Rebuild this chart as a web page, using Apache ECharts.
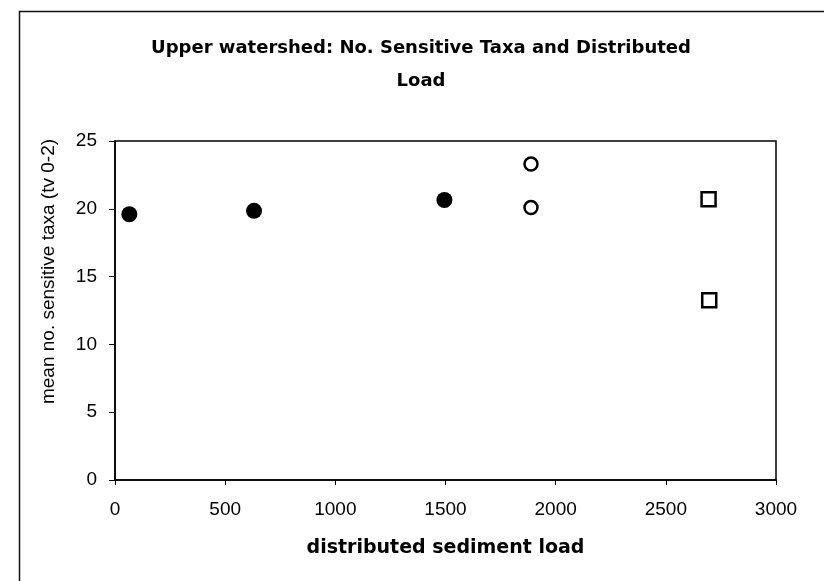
<!DOCTYPE html>
<html>
<head>
<meta charset="utf-8">
<script src="https://cdn.jsdelivr.net/npm/echarts@6/dist/echarts.min.js"></script>
<style>
  html, body { margin: 0; padding: 0; background: #fff; }
  #chart { width: 824px; height: 581px; }
</style>
</head>
<body>
<div id="chart"></div>
<script>
// values
const filledX = [65, 631, 1495];
const filledY = [19.6, 19.85, 20.65];
const openX = [1888, 1888];
const openY = [23.3, 20.1];
const squareX = [2694, 2697];
const squareY = [20.7, 13.25];

const toPoints = (xs, ys) => xs.map((x, i) => [x, ys[i]]);

const chart = echarts.init(document.getElementById("chart"));

const font = "'Liberation Sans', Arial, sans-serif";
const wideFont = "'DejaVu Sans', sans-serif";

const option = {
  backgroundColor: "#fff",
  animation: false,
  textStyle: { fontFamily: font, color: "#000" },
  title: {
    text: "Upper watershed: No. Sensitive Taxa and Distributed\nLoad",
    left: 416,
    top: 27,
    textAlign: "center",
    textStyle: {
      fontFamily: wideFont,
      fontSize: 18,
      fontWeight: "bold",
      color: "#000",
      lineHeight: 33,
    },
  },
  graphic: [
    {
      type: "rect",
      left: 17,
      top: 9,
      shape: { width: 900, height: 700 },
      style: { fill: "none", stroke: "#111", lineWidth: 1.5 },
      z: -1,
    },
  ],
  grid: {
    left: 115,
    top: 141,
    right: 48,
    bottom: 101,
    show: true,
    borderColor: "#000",
    borderWidth: 1.5,
    backgroundColor: "#fff",
  },
  xAxis: {
    type: "value",
    min: 0,
    max: 3000,
    interval: 500,
    name: "distributed sediment load",
    nameLocation: "middle",
    nameGap: 59,
    nameTextStyle: { fontFamily: wideFont, fontSize: 19, fontWeight: "bold", color: "#000" },
    axisLine: { show: true, lineStyle: { color: "#000", width: 1.5 } },
    axisTick: { show: true, inside: false, length: 5, lineStyle: { color: "#000" } },
    axisLabel: {
      fontFamily: font,
      fontSize: 19,
      color: "#000",
      margin: 20,
      formatter: (v) => String(v),
    },
    splitLine: { show: false },
  },
  yAxis: {
    type: "value",
    min: 0,
    max: 25,
    interval: 5,
    name: "mean no. sensitive taxa (tv 0-2)",
    nameLocation: "middle",
    nameGap: 57,
    nameTextStyle: {
      fontFamily: font,
      fontSize: 19,
      color: "#000",
      padding: [0, 0, 0, 78],
    },
    axisLine: { show: true, lineStyle: { color: "#000", width: 1.5 } },
    axisTick: { show: true, inside: false, length: 6, lineStyle: { color: "#000" } },
    axisLabel: { fontFamily: font, fontSize: 19, color: "#000", margin: 18 },
    splitLine: { show: false },
  },
  series: [
    {
      name: "filled",
      type: "scatter",
      symbol: "circle",
      symbolSize: 16,
      data: toPoints(filledX, filledY),
      itemStyle: { color: "#000", opacity: 1 },
    },
    {
      name: "open",
      type: "scatter",
      symbol: "circle",
      symbolSize: 13,
      data: toPoints(openX, openY),
      itemStyle: { color: "#fff", borderColor: "#000", borderWidth: 2.5, opacity: 1 },
    },
    {
      name: "square",
      type: "scatter",
      symbol: "rect",
      symbolSize: 14,
      data: toPoints(squareX, squareY),
      itemStyle: { color: "#fff", borderColor: "#000", borderWidth: 2.5, opacity: 1 },
    },
  ],
};

chart.setOption(option);
</script>
</body>
</html>
